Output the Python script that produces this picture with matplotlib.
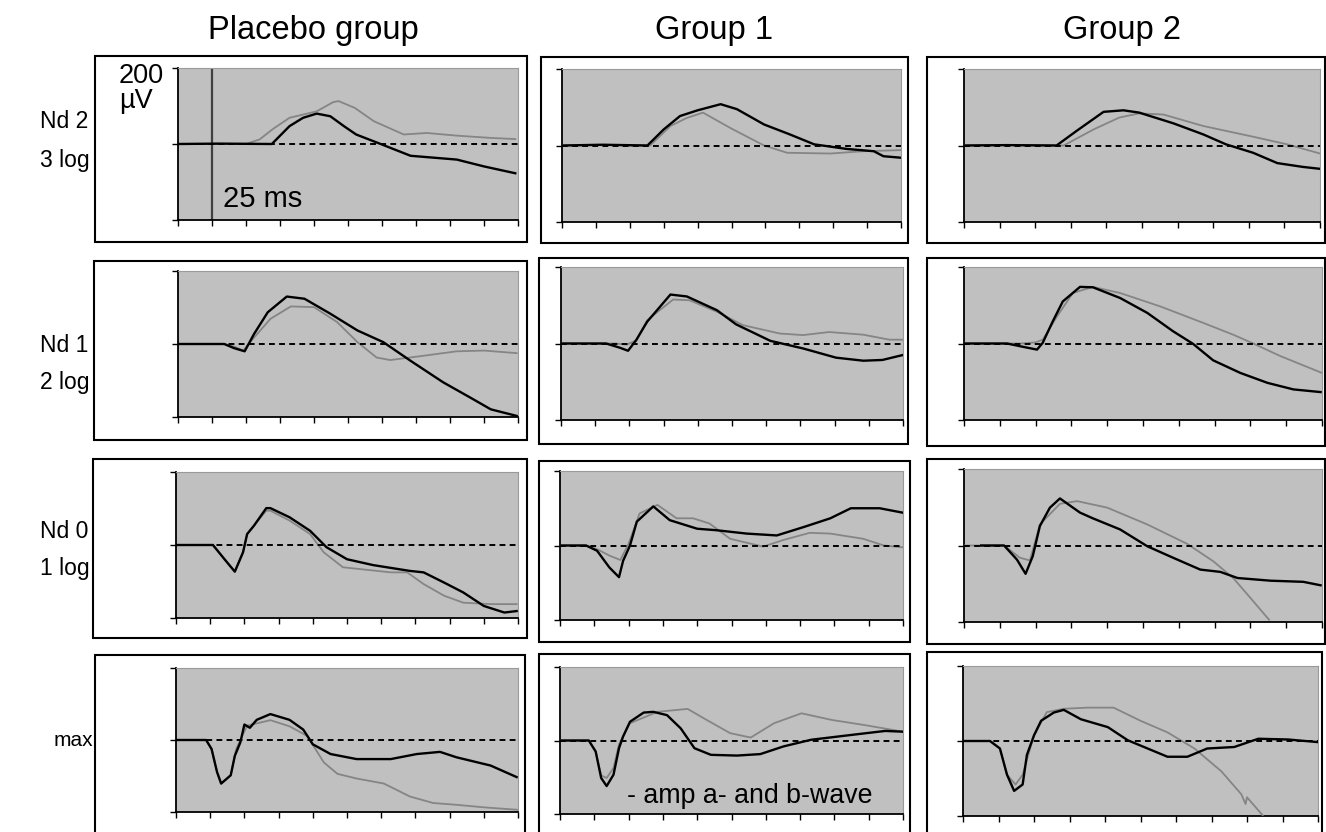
import matplotlib
matplotlib.use("Agg")
import matplotlib.pyplot as plt
from matplotlib.patches import Rectangle

plt.rcParams['font.family'] = ['Liberation Sans', 'DejaVu Sans']

W, H = 1326, 832

# ---------------- data (time in ms, amplitude in µV) ----------------
columns = ["Placebo group", "Group 1", "Group 2"]
row_line1 = ["Nd 2", "Nd 1", "Nd 0", "max"]
row_line2 = ["3 log", "2 log", "1 log", ""]
x_ticks = [0, 25, 50, 75, 100, 125, 150, 175, 200, 225, 250]
y_ticks = [-200, 0, 200]

# Row 1: Nd 2 (3 log)
placebo_nd2_black = [(0, 0), (30, 1), (69, 0), (82, 47), (92, 69), (102, 80), (112, 73), (122, 47),
                     (131, 25), (149, 0), (171, -31), (205, -41), (225, -59), (248, -77)]
placebo_nd2_gray = [(0, 0), (40, 0), (50, 0), (60, 12), (70, 40), (82, 69), (102, 86), (114, 110),
                    (118, 113), (130, 95), (144, 60), (166, 25), (183, 29), (205, 22), (230, 16), (248, 13)]
group1_nd2_black = [(0, 0), (30, 2), (63, 0), (75, 42), (87, 77), (100, 92), (117, 108), (129, 95),
                    (149, 55), (168, 29), (186, 3), (210, -9), (230, -15), (237, -28), (250, -32)]
group1_nd2_gray = [(0, 0), (30, 1), (65, 0), (80, 51), (92, 72), (104, 86), (114, 66), (124, 46),
                   (149, 0), (166, -19), (198, -21), (222, -15), (250, -12)]
group2_nd2_black = [(0, 0), (30, 1), (65, 0), (79, 38), (98, 88), (112, 92), (123, 86), (147, 58),
                    (168, 29), (184, 3), (203, -19), (220, -46), (238, -56), (250, -61)]
group2_nd2_gray = [(0, 0), (30, 1), (70, 0), (91, 42), (109, 73), (123, 84), (140, 81), (168, 51),
                   (203, 23), (227, 3), (250, -21)]

# Row 2: Nd 1 (2 log)
placebo_nd1_black = [(0, 0), (34, 0), (41, -11), (49, -20), (56, 28), (66, 87), (80, 130), (93, 124),
                     (112, 83), (132, 37), (151, 5), (171, -46), (195, -105), (215, -147), (230, -179), (249, -197)]
placebo_nd1_gray = [(0, 0), (34, 0), (42, -8), (48, -18), (56, 18), (68, 69), (83, 103), (100, 101),
                    (117, 60), (132, 5), (146, -37), (156, -44), (181, -32), (205, -20), (225, -18), (249, -25)]
group1_nd1_black = [(0, 0), (33, 0), (43, -11), (49, -19), (55, 9), (63, 57), (80, 128), (92, 123),
                    (114, 87), (128, 50), (153, 7), (177, -13), (201, -37), (221, -45), (235, -43), (250, -30)]
group1_nd1_gray = [(0, 0), (40, 0), (48, -3), (55, 8), (63, 61), (82, 115), (94, 113), (114, 83),
                   (133, 48), (160, 26), (177, 22), (196, 30), (221, 23), (240, 10), (250, 10)]
group2_nd1_black = [(0, 0), (30, 0), (39, -7), (51, -16), (55, 2), (62, 58), (69, 110), (81, 148),
                    (90, 147), (109, 119), (128, 80), (146, 32), (160, -1), (174, -44), (193, -77),
                    (212, -103), (230, -120), (249, -127)]
group2_nd1_gray = [(0, 0), (40, 0), (50, 3), (55, 10), (65, 71), (76, 132), (90, 148), (109, 132),
                   (137, 97), (167, 54), (188, 23), (202, 0), (221, -33), (250, -77)]

# Row 3: Nd 0 (1 log)
placebo_nd0_black = [(0, 0), (27, 0), (37, -46), (43, -73), (49, -20), (52, 30), (57, 53), (66, 101),
                     (69, 101), (83, 76), (98, 39), (110, -6), (125, -39), (144, -55), (171, -71),
                     (181, -75), (196, -103), (210, -130), (225, -167), (240, -185), (249, -181)]
placebo_nd0_gray = [(0, 0), (27, 0), (37, -46), (43, -73), (49, -20), (52, 30), (57, 53), (66, 94),
                    (69, 94), (83, 67), (98, 30), (108, -20), (122, -61), (157, -75), (169, -75),
                    (181, -107), (196, -139), (210, -158), (230, -162), (249, -162)]
group1_nd0_black = [(0, 0), (19, 0), (27, -14), (36, -59), (43, -85), (46, -41), (51, 0), (56, 64),
                    (68, 105), (80, 68), (100, 45), (114, 41), (136, 32), (158, 27), (178, 50),
                    (197, 73), (212, 100), (233, 100), (250, 88)]
group1_nd0_gray = [(0, 0), (19, 0), (27, -10), (36, -27), (44, -39), (50, 5), (58, 86), (71, 109),
                   (85, 73), (97, 73), (109, 59), (124, 18), (148, -3), (163, 15), (182, 34),
                   (197, 32), (221, 18), (236, 0), (250, -5)]
group2_nd0_black = [(12, 0), (28, 0), (37, -37), (43, -74), (48, -28), (53, 51), (60, 99), (67, 123),
                    (81, 86), (90, 71), (109, 42), (128, -2), (146, -32), (165, -63), (179, -69),
                    (191, -85), (214, -92), (237, -95), (249, -104)]
group2_nd0_gray = [(0, 0), (28, 0), (39, -32), (46, -39), (53, 55), (67, 109), (79, 116), (100, 99),
                   (128, 55), (156, 4), (174, -41), (188, -85), (200, -137), (213, -194)]

# Row 4: max
placebo_max_black = [(0, 0), (22, 0), (26, -25), (30, -89), (33, -121), (40, -98), (43, -44), (47, -7),
                     (50, 43), (54, 34), (59, 56), (69, 72), (83, 56), (93, 29), (100, -12), (113, -39),
                     (132, -53), (157, -53), (176, -39), (193, -33), (205, -48), (230, -71), (249, -103)]
placebo_max_gray = [(0, 0), (22, 0), (26, -25), (30, -89), (33, -121), (40, -98), (44, -25), (52, 40),
                    (69, 55), (83, 38), (96, 11), (108, -62), (118, -94), (132, -107), (152, -121),
                    (171, -157), (188, -175), (205, -180), (225, -187), (250, -194)]
group1_max_black = [(0, 0), (21, 0), (26, -30), (30, -102), (34, -124), (39, -93), (43, -21), (46, 11),
                    (51, 51), (61, 76), (68, 78), (78, 69), (88, 33), (98, -21), (110, -39), (129, -41),
                    (146, -37), (163, -16), (183, 2), (212, 15), (237, 26), (250, 24)]
group1_max_gray = [(0, 0), (21, 0), (26, -30), (30, -95), (34, -102), (39, -75), (43, -10), (51, 47),
                   (71, 78), (93, 86), (105, 60), (124, 20), (139, 8), (156, 47), (176, 74),
                   (198, 56), (222, 42), (250, 24)]
group2_max_black = [(0, 0), (19, 0), (26, -20), (31, -90), (36, -133), (42, -116), (45, -37), (50, 15),
                    (55, 54), (64, 76), (71, 83), (83, 58), (102, 37), (116, 2), (130, -20), (144, -42),
                    (158, -42), (172, -20), (191, -16), (208, 6), (229, 4), (250, -3)]
group2_max_gray = [(0, 0), (19, 0), (26, -20), (31, -90), (37, -116), (42, -90), (50, 15), (59, 77),
                   (71, 86), (88, 89), (106, 89), (125, 54), (144, 23), (163, -20), (182, -81),
                   (196, -142), (199, -168), (200, -150), (211, -198)]

traces = [
    [(placebo_nd2_black, placebo_nd2_gray), (group1_nd2_black, group1_nd2_gray), (group2_nd2_black, group2_nd2_gray)],
    [(placebo_nd1_black, placebo_nd1_gray), (group1_nd1_black, group1_nd1_gray), (group2_nd1_black, group2_nd1_gray)],
    [(placebo_nd0_black, placebo_nd0_gray), (group1_nd0_black, group1_nd0_gray), (group2_nd0_black, group2_nd0_gray)],
    [(placebo_max_black, placebo_max_gray), (group1_max_black, group1_max_gray), (group2_max_black, group2_max_gray)],
]

# ---------------- layout (pixels) ----------------
plot_boxes = [
    [(178, 68, 518, 220), (562, 69, 901, 222), (964, 69, 1320, 222)],
    [(178, 271, 518, 417), (561, 267, 903, 420), (964, 267, 1322, 420)],
    [(176, 472, 518, 618), (560, 471, 903, 620), (964, 469, 1322, 622)],
    [(176, 668, 518, 812), (560, 667, 903, 814), (963, 666, 1318, 816)],
]
outer_boxes = [
    [(95, 56, 527, 242), (541, 57, 908, 243), (927, 57, 1325, 243)],
    [(94, 261, 527, 440), (539, 258, 908, 444), (927, 258, 1325, 446)],
    [(93, 459, 527, 638), (539, 461, 910, 642), (927, 459, 1325, 644)],
    [(95, 655, 525, 834), (539, 654, 910, 834), (927, 652, 1322, 834)],
]
row_line1_y = [122, 345, 531, 741]
row_line2_y = [160, 383, 569, 0]
col_title_x = [313, 714, 1122]

fig = plt.figure(figsize=(W / 100, H / 100), dpi=100)
fig.patch.set_facecolor('white')


def fx(px):
    return px / W


def fy(py):
    return 1 - py / H


for r in range(4):
    for c in range(3):
        bx0, by0, bx1, by1 = outer_boxes[r][c]
        fig.add_artist(Rectangle((fx(bx0), fy(by1)), fx(bx1) - fx(bx0), fy(by0) - fy(by1),
                                 transform=fig.transFigure, fill=False, edgecolor='black',
                                 linewidth=1.5, zorder=0))
        x0, y0, x1, y1 = plot_boxes[r][c]
        ax = fig.add_axes([fx(x0), fy(y1), fx(x1) - fx(x0), fy(y0) - fy(y1)])
        ax.set_facecolor('#c0c0c0')
        ax.set_xlim(x_ticks[0], x_ticks[-1])
        ax.set_ylim(y_ticks[0], y_ticks[-1])
        ax.set_xticks(x_ticks)
        ax.set_yticks(y_ticks)
        ax.tick_params(axis='both', direction='out', length=4, width=1.0,
                       labelbottom=False, labelleft=False, color='black')
        for s in ('left', 'bottom'):
            ax.spines[s].set_color('black')
            ax.spines[s].set_linewidth(1.3)
        for s in ('top', 'right'):
            ax.spines[s].set_color('#9a9a9a')
            ax.spines[s].set_linewidth(0.8)
        black, gray = traces[r][c]
        ax.plot([p[0] for p in gray], [p[1] for p in gray], color='#858585', lw=1.3, zorder=3)
        ax.plot([p[0] for p in black], [p[1] for p in black], color='black', lw=1.7, zorder=4)
        ax.axhline(0, color='black', lw=1.4, linestyle=(0, (3, 2.2)), zorder=5)
        if r == 0 and c == 0:
            ax.axvline(x_ticks[1], color='#404040', lw=1.6, zorder=2)
            ax.text(33, -145, "25 ms", fontsize=21, va='center', ha='left')
        if r == 3 and c == 1:
            ax.text(49, -150, "- amp a- and b-wave", fontsize=19.3, va='center', ha='left')

# 200 µV scale label
fig.text(fx(119), fy(76), "200", fontsize=19.5, ha='left', va='center')
fig.text(fx(119), fy(101), "µV", fontsize=19.5, ha='left', va='center')

for c, title in enumerate(columns):
    fig.text(fx(col_title_x[c]), fy(31), title, fontsize=23.5, ha='center', va='center')

for r in range(4):
    if row_line2[r]:
        fig.text(fx(40), fy(row_line1_y[r]), row_line1[r], fontsize=16.5, ha='left', va='center')
        fig.text(fx(40), fy(row_line2_y[r]), row_line2[r], fontsize=16.5, ha='left', va='center')
    else:
        fig.text(fx(93), fy(row_line1_y[r]), row_line1[r], fontsize=15, ha='right', va='center')

fig.savefig("out.png", dpi=100)
